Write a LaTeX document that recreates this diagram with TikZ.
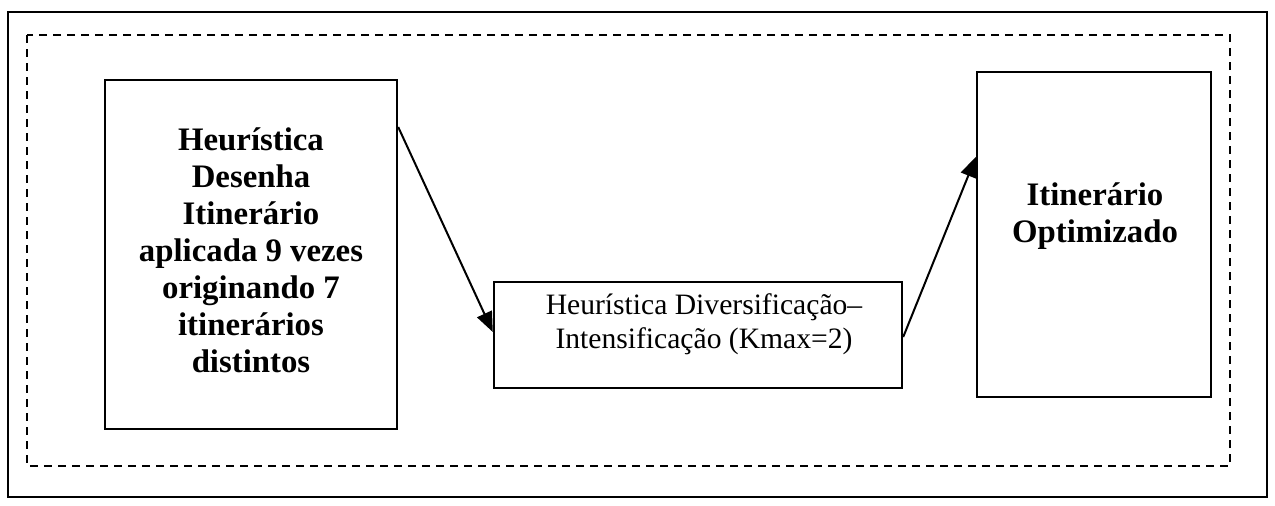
\documentclass[tikz,border=0pt]{standalone}
\usepackage{fontspec}
\setmainfont{Liberation Serif}
\usetikzlibrary{arrows.meta}
\begin{document}
\begin{tikzpicture}[x=0.5pt,y=-0.5pt,
  frame/.style={draw,line width=1pt},
  dashframe/.style={draw,line width=1.1pt,dash pattern=on 4pt off 3pt},
  box/.style={draw,line width=1.2pt},
  flow/.style={line width=1pt,-{Triangle[length=10pt,width=8pt]}},
  boldtext/.style={align=center,font=\fontsize{16.4}{18.5}\selectfont\bfseries},
  plaintext/.style={align=center,font=\fontsize{14.8}{17}\selectfont}]
  \useasboundingbox (0,0) rectangle (1275,505);
  % outer frame and dashed inner frame
  \draw[frame] (8,12) rectangle (1267,497);
  \draw[dashframe] (27,35) rectangle (1230,466);
  % boxes
  \node[box,minimum width=146pt,minimum height=174.5pt] (left) at (251,254.5) {};
  \node[box,minimum width=204pt,minimum height=53pt] (mid) at (698,335) {};
  \node[box,minimum width=117pt,minimum height=162.5pt] (right) at (1094,234.5) {};
  % texts
  \node[boldtext] (lt) at (251,250) {Heurística\\Desenha\\Itinerário\\aplicada 9 vezes\\originando 7\\itinerários\\distintos};
  \node[plaintext] (mt) at (704,324) {Heurística Diversificação–\\Intensificação (Kmax=2)};
  \node[boldtext] (rt) at (1095,216) {Itinerário\\Optimizado};
  % connectors
  \coordinate (a1) at (397,127);
  \coordinate (a2) at (494,332);
  \coordinate (b1) at (902,337);
  \coordinate (b2) at (977,157);
  \draw[flow] (left.east |- a1) -- (mid.west |- a2);
  \draw[flow] (mid.east |- b1) -- (right.west |- b2);
\end{tikzpicture}
\end{document}
